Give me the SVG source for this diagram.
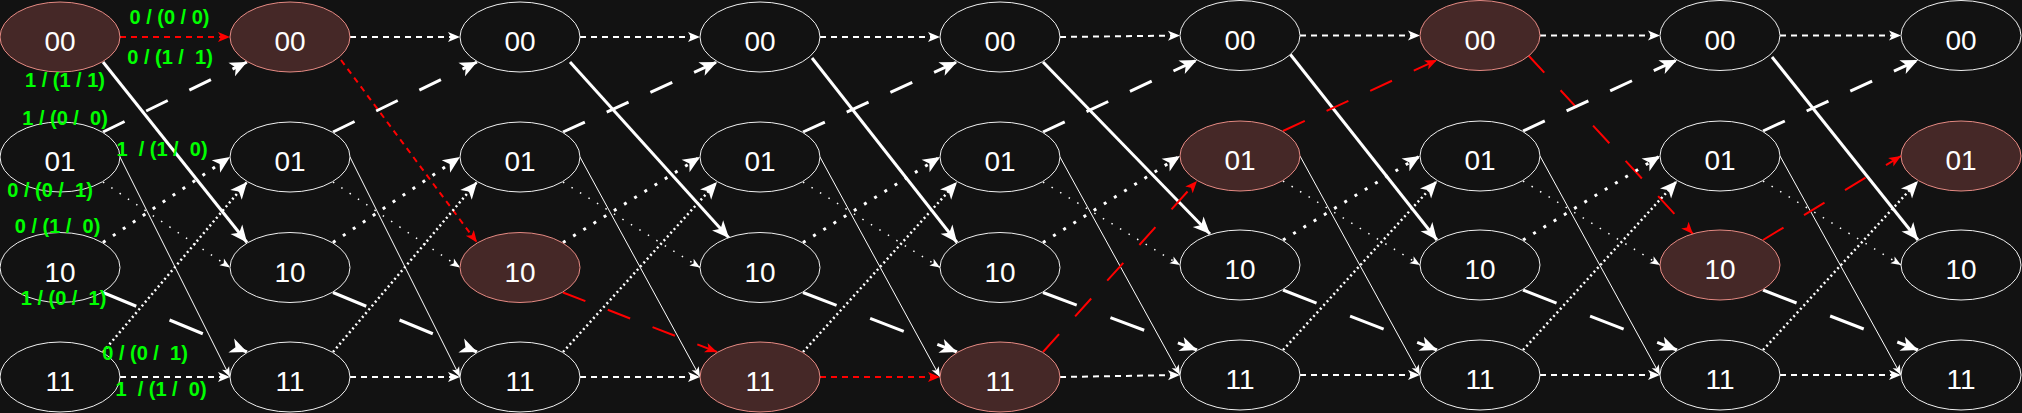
<svg xmlns="http://www.w3.org/2000/svg" width="2022" height="413" viewBox="0 0 2022 413">
<defs>
<style>
.n ellipse{fill:#121212;stroke:#f0f0f0;stroke-width:1}
.h ellipse{fill:#452827;stroke:#e58a83;stroke-width:1}
.n text,.h text{font-family:"Liberation Sans",Arial,sans-serif;font-size:28px;fill:#fff;text-anchor:middle}
.e{fill:none;stroke:#fff;stroke-linecap:butt}
.d{stroke-width:2;stroke-dasharray:6 5;marker-end:url(#aM)}
.s{stroke-width:3;marker-end:url(#aL)}
.ld{stroke-width:3;stroke-dasharray:24 24;marker-end:url(#aL)}
.ld2{stroke-width:3;stroke-dasharray:36 36;marker-end:url(#aL)}
.fd{stroke-width:1.5;stroke-dasharray:1.5 8.5;marker-end:url(#aS)}
.td{stroke-width:3;stroke-dasharray:3 9;marker-end:url(#aL)}
.md{stroke-width:2.5;stroke-dasharray:2 3;marker-end:url(#aL)}
.t{stroke-width:1;marker-end:url(#aS)}
.r{stroke:#ff0000;stroke-width:2;marker-end:url(#aR)}
.rd{stroke-dasharray:6 5}
.rl{stroke-dasharray:24 24}
.lbl{font-family:"Liberation Sans",Arial,sans-serif;font-size:20px;font-weight:bold;fill:#00ff00;text-anchor:middle;white-space:pre}
</style>
<marker id="aL" markerUnits="userSpaceOnUse" markerWidth="17" markerHeight="15" refX="17" refY="7.5" orient="auto" overflow="visible"><path d="M0,0L17,7.5L0,15L4.5,7.5Z" fill="#fff"/></marker>
<marker id="aM" markerUnits="userSpaceOnUse" markerWidth="12" markerHeight="10" refX="12" refY="5" orient="auto" overflow="visible"><path d="M0,0L12,5L0,10L3,5Z" fill="#fff"/></marker>
<marker id="aS" markerUnits="userSpaceOnUse" markerWidth="10" markerHeight="8" refX="10" refY="4" orient="auto" overflow="visible"><path d="M0,0L10,4L0,8L2.5,4Z" fill="#fff"/></marker>
<marker id="aR" markerUnits="userSpaceOnUse" markerWidth="12" markerHeight="10" refX="12" refY="5" orient="auto" overflow="visible"><path d="M0,0L12,5L0,10L3,5Z" fill="#ff0000"/></marker>
</defs>
<rect width="2022" height="413" fill="#121212"/>
<g id="connectors">
<path class="e r rd" d="M120,37H230"/>
<path class="e s" d="M103,62L247,242.5"/>
<path class="e ld" d="M103,132L247,62"/>
<path class="e fd" d="M103,182L230,267.5"/>
<path class="e t" d="M120,157L230,377"/>
<path class="e td" d="M103,242.5L230,157"/>
<path class="e ld2" d="M103,292.5L247,352"/>
<path class="e md" d="M103,352L247,182"/>
<path class="e d" d="M120,377H230"/>

<path class="e d" d="M350,37H460"/>
<path class="e r rd" d="M341,60L477,242.5"/>
<path class="e ld" d="M333,132L477,62"/>
<path class="e fd" d="M333,182L460,267.5"/>
<path class="e t" d="M350,157L460,377"/>
<path class="e td" d="M333,242.5L460,157"/>
<path class="e ld2" d="M333,292.5L477,352"/>
<path class="e md" d="M333,352L477,182"/>
<path class="e d" d="M350,377H460"/>

<path class="e d" d="M580,37H700"/>
<path class="e s" d="M570,62L729,238"/>
<path class="e ld" d="M563,132L717,62"/>
<path class="e fd" d="M563,182L700,267.5"/>
<path class="e t" d="M580,157L700,377"/>
<path class="e td" d="M563,242.5L700,157"/>
<path class="e r rl" d="M563,292.5L717,352"/>
<path class="e md" d="M563,352L717,182"/>
<path class="e d" d="M580,377H700"/>

<path class="e d" d="M820,37H940"/>
<path class="e s" d="M812,58L957,242.5"/>
<path class="e ld" d="M803,132L957,62"/>
<path class="e fd" d="M803,182L940,267.5"/>
<path class="e t" d="M820,157L940,377"/>
<path class="e td" d="M803,242.5L940,157"/>
<path class="e ld2" d="M803,292.5L957,352"/>
<path class="e md" d="M803,352L957,182"/>
<path class="e r rd" d="M820,377H940"/>

<path class="e d" d="M1060,37L1180,35.5"/>
<path class="e s" d="M1043,62L1210,234"/>
<path class="e ld" d="M1043,132L1197,60"/>
<path class="e fd" d="M1043,182L1180,265"/>
<path class="e t" d="M1060,157L1180,375"/>
<path class="e td" d="M1043,242.5L1180,156"/>
<path class="e ld2" d="M1043,292.5L1197,350"/>
<path class="e r rl" d="M1043,352L1197,181"/>
<path class="e d" d="M1060,377L1180,375"/>

<path class="e d" d="M1300,35.5H1420"/>
<path class="e s" d="M1290,54L1437,240"/>
<path class="e r rl" d="M1283,131L1437,60"/>
<path class="e fd" d="M1283,181L1420,265"/>
<path class="e t" d="M1300,156L1420,375"/>
<path class="e td" d="M1283,240L1420,156"/>
<path class="e ld2" d="M1283,290L1437,350"/>
<path class="e md" d="M1283,350L1437,181"/>
<path class="e d" d="M1300,375H1420"/>

<path class="e d" d="M1540,35.5H1660"/>
<path class="e r rl" d="M1528,55L1693,234"/>
<path class="e ld" d="M1523,131L1677,60"/>
<path class="e fd" d="M1523,181L1660,265"/>
<path class="e t" d="M1540,156L1660,375"/>
<path class="e td" d="M1523,240L1660,156"/>
<path class="e ld2" d="M1523,290L1677,350"/>
<path class="e md" d="M1523,350L1677,181"/>
<path class="e d" d="M1540,375H1660"/>

<path class="e d" d="M1780,35.5H1901"/>
<path class="e s" d="M1772,57L1918,240"/>
<path class="e ld" d="M1763,131L1918,60"/>
<path class="e fd" d="M1763,181L1901,265"/>
<path class="e t" d="M1780,156L1901,375"/>
<path class="e r rl" d="M1763,240L1901,156"/>
<path class="e ld2" d="M1763,290L1918,350"/>
<path class="e md" d="M1763,350L1918,181"/>
<path class="e d" d="M1780,375H1901"/>
</g>
<g id="c0-00" class="h"><ellipse cx="60" cy="37" rx="60" ry="35"/><text x="60" y="51">00</text></g>
<g id="c0-01" class="n"><ellipse cx="60" cy="157" rx="60" ry="35"/><text x="60" y="171">01</text></g>
<g id="c0-10" class="n"><ellipse cx="60" cy="267.5" rx="60" ry="35"/><text x="60" y="281.5">10</text></g>
<g id="c0-11" class="n"><ellipse cx="60" cy="377" rx="60" ry="35"/><text x="60" y="391">11</text></g>
<g id="c1-00" class="h"><ellipse cx="290" cy="37" rx="60" ry="35"/><text x="290" y="51">00</text></g>
<g id="c1-01" class="n"><ellipse cx="290" cy="157" rx="60" ry="35"/><text x="290" y="171">01</text></g>
<g id="c1-10" class="n"><ellipse cx="290" cy="267.5" rx="60" ry="35"/><text x="290" y="281.5">10</text></g>
<g id="c1-11" class="n"><ellipse cx="290" cy="377" rx="60" ry="35"/><text x="290" y="391">11</text></g>
<g id="c2-00" class="n"><ellipse cx="520" cy="37" rx="60" ry="35"/><text x="520" y="51">00</text></g>
<g id="c2-01" class="n"><ellipse cx="520" cy="157" rx="60" ry="35"/><text x="520" y="171">01</text></g>
<g id="c2-10" class="h"><ellipse cx="520" cy="267.5" rx="60" ry="35"/><text x="520" y="281.5">10</text></g>
<g id="c2-11" class="n"><ellipse cx="520" cy="377" rx="60" ry="35"/><text x="520" y="391">11</text></g>
<g id="c3-00" class="n"><ellipse cx="760" cy="37" rx="60" ry="35"/><text x="760" y="51">00</text></g>
<g id="c3-01" class="n"><ellipse cx="760" cy="157" rx="60" ry="35"/><text x="760" y="171">01</text></g>
<g id="c3-10" class="n"><ellipse cx="760" cy="267.5" rx="60" ry="35"/><text x="760" y="281.5">10</text></g>
<g id="c3-11" class="h"><ellipse cx="760" cy="377" rx="60" ry="35"/><text x="760" y="391">11</text></g>
<g id="c4-00" class="n"><ellipse cx="1000" cy="37" rx="60" ry="35"/><text x="1000" y="51">00</text></g>
<g id="c4-01" class="n"><ellipse cx="1000" cy="157" rx="60" ry="35"/><text x="1000" y="171">01</text></g>
<g id="c4-10" class="n"><ellipse cx="1000" cy="267.5" rx="60" ry="35"/><text x="1000" y="281.5">10</text></g>
<g id="c4-11" class="h"><ellipse cx="1000" cy="377" rx="60" ry="35"/><text x="1000" y="391">11</text></g>
<g id="c5-00" class="n"><ellipse cx="1240" cy="35.5" rx="60" ry="35"/><text x="1240" y="49.5">00</text></g>
<g id="c5-01" class="h"><ellipse cx="1240" cy="156" rx="60" ry="35"/><text x="1240" y="170">01</text></g>
<g id="c5-10" class="n"><ellipse cx="1240" cy="265" rx="60" ry="35"/><text x="1240" y="279">10</text></g>
<g id="c5-11" class="n"><ellipse cx="1240" cy="375" rx="60" ry="35"/><text x="1240" y="389">11</text></g>
<g id="c6-00" class="h"><ellipse cx="1480" cy="35.5" rx="60" ry="35"/><text x="1480" y="49.5">00</text></g>
<g id="c6-01" class="n"><ellipse cx="1480" cy="156" rx="60" ry="35"/><text x="1480" y="170">01</text></g>
<g id="c6-10" class="n"><ellipse cx="1480" cy="265" rx="60" ry="35"/><text x="1480" y="279">10</text></g>
<g id="c6-11" class="n"><ellipse cx="1480" cy="375" rx="60" ry="35"/><text x="1480" y="389">11</text></g>
<g id="c7-00" class="n"><ellipse cx="1720" cy="35.5" rx="60" ry="35"/><text x="1720" y="49.5">00</text></g>
<g id="c7-01" class="n"><ellipse cx="1720" cy="156" rx="60" ry="35"/><text x="1720" y="170">01</text></g>
<g id="c7-10" class="h"><ellipse cx="1720" cy="265" rx="60" ry="35"/><text x="1720" y="279">10</text></g>
<g id="c7-11" class="n"><ellipse cx="1720" cy="375" rx="60" ry="35"/><text x="1720" y="389">11</text></g>
<g id="c8-00" class="n"><ellipse cx="1961" cy="35.5" rx="60" ry="35"/><text x="1961" y="49.5">00</text></g>
<g id="c8-01" class="h"><ellipse cx="1961" cy="156" rx="60" ry="35"/><text x="1961" y="170">01</text></g>
<g id="c8-10" class="n"><ellipse cx="1961" cy="265" rx="60" ry="35"/><text x="1961" y="279">10</text></g>
<g id="c8-11" class="n"><ellipse cx="1961" cy="375" rx="60" ry="35"/><text x="1961" y="389">11</text></g>
<g id="labels">
<text class="lbl" x="169.5" y="24" xml:space="preserve">0 / (0 / 0)</text>
<text class="lbl" x="170" y="64" xml:space="preserve">0 / (1 /  1)</text>
<text class="lbl" x="65" y="87" xml:space="preserve">1 / (1 / 1)</text>
<text class="lbl" x="65" y="125" xml:space="preserve">1 / (0 /  0)</text>
<text class="lbl" x="162" y="156" xml:space="preserve">1  / (1 /  0)</text>
<text class="lbl" x="50" y="197" xml:space="preserve">0 / (0 /  1)</text>
<text class="lbl" x="57.5" y="233" xml:space="preserve">0 / (1 /  0)</text>
<text class="lbl" x="63.5" y="305" xml:space="preserve">1 / (0 /  1)</text>
<text class="lbl" x="145" y="360" xml:space="preserve">0 / (0 /  1)</text>
<text class="lbl" x="161" y="396" xml:space="preserve">1  / (1 /  0)</text>
</g>
</svg>
